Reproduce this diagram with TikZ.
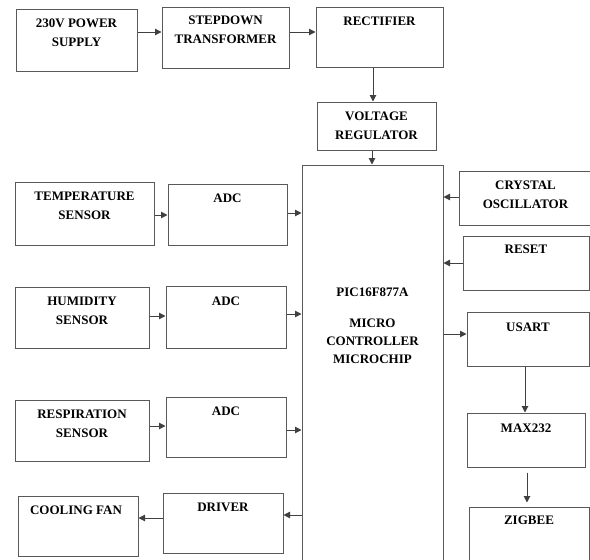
\documentclass[tikz,border=0pt]{standalone}
\usepackage{fontspec}
\setmainfont{Liberation Serif}
\usetikzlibrary{arrows.meta,fit}

\tikzset{
  blk/.style={draw=black!65, line width=1pt, inner sep=0pt},
  lbl/.style={font=\bfseries\fontsize{13}{19}\selectfont, align=center, anchor=north, inner sep=0pt},
  arr/.style={draw=black!75, line width=1pt, -{Triangle[length=6.5pt,width=6.5pt]}},
}

\begin{document}
\begin{tikzpicture}[x=1pt, y=-1pt]
  \clip (0,0) rectangle (590,560);
  % power chain
  \node[blk, fit={(16,9) (137,71)}] (ps) {};     \node[lbl] at ([yshift=-10pt]ps.north) {230V POWER\\SUPPLY};
  \node[blk, fit={(162,7) (289,68)}] (stp) {};   \node[lbl] at ([yshift=-9pt]stp.north) {STEPDOWN\\TRANSFORMER};
  \node[blk, fit={(316,7) (443,67)}] (rect) {};  \node[lbl] at ([yshift=-10pt]rect.north) {RECTIFIER};
  \node[blk, fit={(317,102) (436,150)}] (vr) {}; \node[lbl] at ([yshift=-10pt]vr.north) {VOLTAGE\\REGULATOR};
  % controller
  \node[blk, fit={(302,165) (443,575)}] (pic) {};
  \node[lbl, font=\bfseries\fontsize{13}{18}\selectfont] at ([yshift=-123pt]pic.north) {PIC16F877A\\[13pt]MICRO\\CONTROLLER\\MICROCHIP};
  % sensors
  \node[blk, fit={(15,182) (154,245)}] (temp) {}; \node[lbl] at ([yshift=-10pt]temp.north) {TEMPERATURE\\SENSOR};
  \node[blk, fit={(168,184) (287,245)}] (adc1) {}; \node[lbl] at ([yshift=-10pt]adc1.north) {ADC};
  \node[blk, fit={(15,287) (149,348)}] (hum) {};  \node[lbl] at ([yshift=-10pt]hum.north) {HUMIDITY\\SENSOR};
  \node[blk, fit={(166,286) (286,348)}] (adc2) {}; \node[lbl] at ([yshift=-11pt]adc2.north) {ADC};
  \node[blk, fit={(15,400) (149,461)}] (resp) {}; \node[lbl] at ([yshift=-10pt]resp.north) {RESPIRATION\\SENSOR};
  \node[blk, fit={(166,397) (286,457)}] (adc3) {}; \node[lbl] at ([yshift=-10pt]adc3.north) {ADC};
  % output side
  \node[blk, fit={(18,496) (138,556)}] (fan) {};  \node[lbl] at ([xshift=-2pt,yshift=-10pt]fan.north) {COOLING FAN};
  \node[blk, fit={(163,493) (283,553)}] (drv) {}; \node[lbl] at ([yshift=-10pt]drv.north) {DRIVER};
  % right column
  \node[blk, fit={(459,171) (592,225)}] (xtal) {}; \node[lbl] at ([yshift=-10pt]xtal.north) {CRYSTAL\\OSCILLATOR};
  \node[blk, fit={(463,236) (589,290)}] (rst) {};  \node[lbl] at ([yshift=-9pt]rst.north) {RESET};
  \node[blk, fit={(467,312) (589,366)}] (usart) {}; \node[lbl] at ([yshift=-11pt]usart.north) {USART};
  \node[blk, fit={(467,413) (585,467)}] (max) {};  \node[lbl] at ([yshift=-11pt]max.north) {MAX232};
  \node[blk, fit={(469,507) (589,575)}] (zig) {};  \node[lbl] at ([yshift=-9pt]zig.north) {ZIGBEE};

  \draw[arr] (ps.east |- 0,32) -- (stp.west |- 0,32);
  \draw[arr] (stp.east |- 0,32) -- (rect.west |- 0,32);
  \draw[arr] (rect.south -| 373,0) -- (vr.north -| 373,0);
  \draw[arr] (vr.south -| 372,0) -- (pic.north -| 372,0);
  \draw[arr] (temp.east |- 0,215) -- (adc1.west |- 0,215);
  \draw[arr] (adc1.east |- 0,213) -- (pic.west |- 0,213);
  \draw[arr] (hum.east |- 0,316) -- (adc2.west |- 0,316);
  \draw[arr] (adc2.east |- 0,314) -- (pic.west |- 0,314);
  \draw[arr] (resp.east |- 0,426) -- (adc3.west |- 0,426);
  \draw[arr] (adc3.east |- 0,430) -- (pic.west |- 0,430);
  \draw[arr] (xtal.west |- 0,197) -- (pic.east |- 0,197);
  \draw[arr] (rst.west |- 0,263) -- (pic.east |- 0,263);
  \draw[arr] (pic.east |- 0,334) -- (usart.west |- 0,334);
  \draw[arr] (usart.south -| 525,0) -- (max.north -| 525,0);
  \draw[arr, shorten <=5pt, shorten >=4pt] (max.south -| 527,0) -- (zig.north -| 527,0);
  \draw[arr] (pic.west |- 0,515) -- (drv.east |- 0,515);
  \draw[arr] (drv.west |- 0,518) -- (fan.east |- 0,518);
\end{tikzpicture}
\end{document}
